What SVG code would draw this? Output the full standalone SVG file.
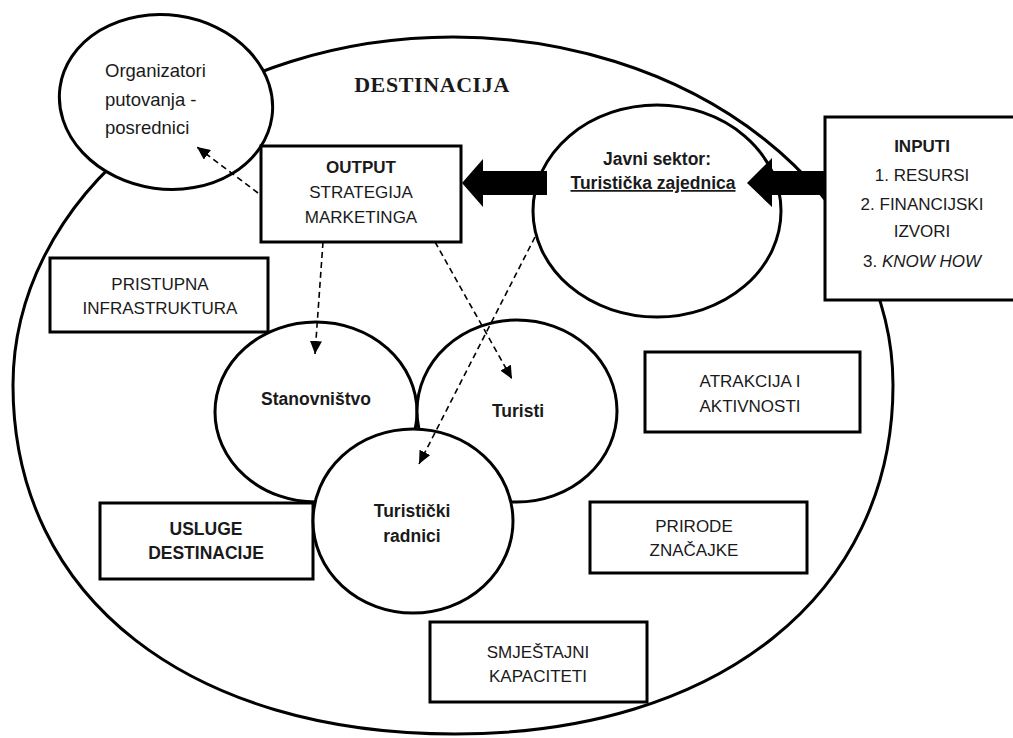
<svg xmlns="http://www.w3.org/2000/svg" width="1013" height="738" viewBox="0 0 1013 738">
<style>
.shape{fill:#fff;stroke:#000;stroke-width:3}
.outline{fill:none;stroke:#000;stroke-width:3}
.t{font-family:"Liberation Sans",Arial,sans-serif;font-size:17px;fill:#1a1a1a;text-anchor:middle}
.b{font-weight:bold;font-size:17.5px}
.dash{fill:none;stroke:#000;stroke-width:1.6;stroke-dasharray:6 4}
.thick{fill:#000;stroke:none}
</style>
<defs>
<marker id="ah" viewBox="0 0 13 12" refX="13" refY="6" markerWidth="13" markerHeight="12" markerUnits="userSpaceOnUse" orient="auto">
<path d="M0,0 L13,6 L0,12 Z" fill="#000"/>
</marker>
</defs>
<rect width="1013" height="738" fill="#fff"/>
<g id="destinacija">
<path class="outline" d="M13,385 A440,348 0 0 1 893,385 C893,595 718,734 455,734 C192,734 13,600 13,385 Z"/>
<text x="432" y="92" style="font-family:'Liberation Serif','Times New Roman',serif;font-weight:bold;font-size:22px;letter-spacing:0.6px;text-anchor:middle;fill:#1a1a1a">DESTINACIJA</text>
</g>
<g id="organizatori">
<ellipse class="shape" cx="166" cy="102" rx="107" ry="87" transform="rotate(8 166 102)"/>
<text class="t" style="text-anchor:start;font-size:18.5px"><tspan x="105" y="77">Organizatori</tspan><tspan x="105" y="106">putovanja -</tspan><tspan x="105" y="134">posrednici</tspan></text>
</g>
<g id="output">
<rect class="shape" x="261" y="146" width="200" height="96"/>
<text class="t"><tspan x="361" y="173" font-weight="bold">OUTPUT</tspan><tspan x="361" y="198">STRATEGIJA</tspan><tspan x="361" y="223">MARKETINGA</tspan></text>
</g>
<g id="inputi">
<rect class="shape" x="825" y="117" width="196" height="183"/>
<text class="t"><tspan x="922" y="152" font-weight="bold">INPUTI</tspan><tspan x="922" y="181">1. RESURSI</tspan><tspan x="922" y="210">2. FINANCIJSKI</tspan><tspan x="922" y="237">IZVORI</tspan><tspan x="922" y="267">3. <tspan font-style="italic">KNOW HOW</tspan></tspan></text>
</g>
<g id="javni-sektor">
<ellipse class="shape" cx="657" cy="211" rx="124" ry="106"/>
<text class="t b" x="657" y="165">Javni sektor:</text>
<text class="t b" x="653" y="189" text-decoration="underline">Turistička zajednica</text>
</g>
<g id="pristupna">
<rect class="shape" x="50" y="258" width="218" height="74"/>
<text class="t"><tspan x="160" y="290">PRISTUPNA</tspan><tspan x="160" y="314">INFRASTRUKTURA</tspan></text>
</g>
<g id="usluge">
<rect class="shape" x="100" y="503" width="213" height="76"/>
<text class="t b"><tspan x="206" y="535">USLUGE</tspan><tspan x="206" y="559">DESTINACIJE</tspan></text>
</g>
<g id="atrakcija">
<rect class="shape" x="645" y="352" width="215" height="80"/>
<text class="t"><tspan x="750" y="387">ATRAKCIJA I</tspan><tspan x="750" y="412">AKTIVNOSTI</tspan></text>
</g>
<g id="prirode">
<rect class="shape" x="590" y="502" width="217" height="71"/>
<text class="t"><tspan x="694" y="532">PRIRODE</tspan><tspan x="694" y="556">ZNAČAJKE</tspan></text>
</g>
<g id="smjestajni">
<rect class="shape" x="430" y="622" width="217" height="80"/>
<text class="t"><tspan x="538" y="658">SMJEŠTAJNI</tspan><tspan x="538" y="682">KAPACITETI</tspan></text>
</g>
<g id="stanovnistvo">
<ellipse class="shape" cx="316" cy="412" rx="101" ry="90"/>
<text class="t b" x="316" y="405">Stanovništvo</text>
</g>
<g id="turisti">
<ellipse class="shape" cx="517" cy="411" rx="100" ry="91"/>
<text class="t b" x="518" y="417">Turisti</text>
</g>
<g id="turisticki-radnici">
<ellipse class="shape" cx="413" cy="521" rx="100" ry="92"/>
<text class="t b"><tspan x="412" y="517">Turistički</tspan><tspan x="412" y="542">radnici</tspan></text>
</g>
<g id="connectors">
<polygon class="thick" points="547,171 483,171 483,159 462,183 483,207 483,195 547,195"/>
<polygon class="thick" points="826,171 772,171 772,158 747,183 772,207 772,195 826,195"/>
<line class="dash" x1="258" y1="193" x2="197" y2="147" marker-end="url(#ah)"/>
<line class="dash" x1="323" y1="242" x2="315" y2="354" marker-end="url(#ah)"/>
<line class="dash" x1="435" y1="242" x2="512" y2="379" marker-end="url(#ah)"/>
<line class="dash" x1="535" y1="237" x2="419" y2="464" marker-end="url(#ah)"/>
</g>
</svg>
